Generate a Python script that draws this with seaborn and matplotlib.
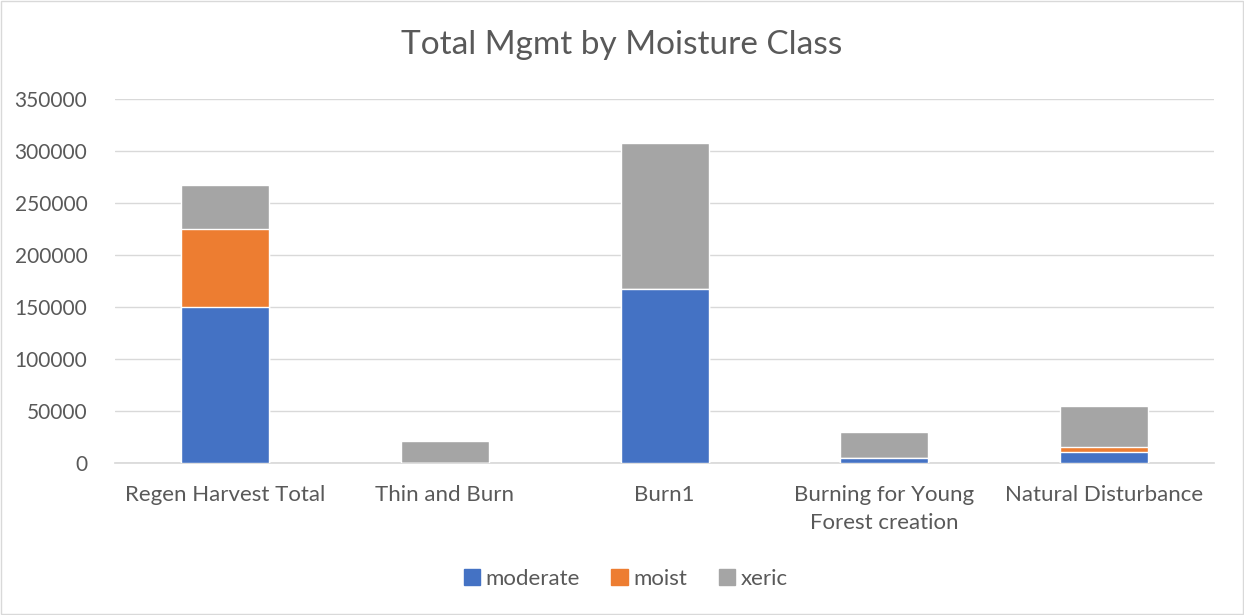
import pandas as pd
import matplotlib.pyplot as plt
import seaborn as sns
from matplotlib.patches import Patch

categories = ["Regen Harvest Total", "Thin and Burn", "Burn1",
              "Burning for Young\nForest creation", "Natural Disturbance"]
moderate = [150000, 0, 167000, 4500, 10300]
moist = [75000, 0, 0, 0, 5400]
xeric = [42000, 21000, 140500, 25000, 39500]

colors = {"moderate": "#4472C4", "moist": "#ED7D31", "xeric": "#A5A5A5"}
text_color = "#595959"

df = pd.DataFrame({
    "category": categories,
    "moderate": moderate,
    "moist": moist,
    "xeric": xeric,
})
# cumulative heights so each layer can be drawn over the one above it
df["c_moist"] = df["moderate"] + df["moist"]
df["c_xeric"] = df["c_moist"] + df["xeric"]

sns.set_theme(style="white")
plt.rcParams["font.family"] = ["Lato", "DejaVu Sans"]

fig, ax = plt.subplots(figsize=(12.44, 6.15), dpi=100)
fig.subplots_adjust(left=0.0925, right=0.976, top=0.839, bottom=0.247)

for col, name in [("c_xeric", "xeric"), ("c_moist", "moist"), ("moderate", "moderate")]:
    sns.barplot(data=df, x="category", y=col, color=colors[name],
                width=0.4, saturation=1, ax=ax, zorder=3)

ax.set_ylim(0, 350000)
ax.set_yticks(range(0, 350001, 50000))
ax.yaxis.grid(True, color="#D9D9D9", linewidth=1, zorder=0)
ax.set_xlabel("")
ax.set_ylabel("")
for side in ["top", "right", "left"]:
    ax.spines[side].set_visible(False)
ax.spines["bottom"].set_color("#D9D9D9")
ax.tick_params(axis="both", colors=text_color, length=0)
ax.tick_params(axis="x", labelsize=16, pad=16)
ax.tick_params(axis="y", labelsize=15, pad=20)
for lbl in ax.get_xticklabels():
    lbl.set_linespacing(1.5)

fig.text(0.5, 0.927, "Total Mgmt by Moisture Class", fontsize=24,
         color=text_color, ha="center", va="center")

handles = [Patch(color=colors[n], label=n) for n in ["moderate", "moist", "xeric"]]
fig.legend(handles=handles, loc="lower center", ncol=3, frameon=False,
           fontsize=16, labelcolor=text_color, handlelength=0.75, handleheight=0.75,
           handletextpad=0.25, columnspacing=1.4, bbox_to_anchor=(0.503, 0.01))

fig.patches.append(plt.Rectangle((0.001, 0.001), 0.998, 0.998, transform=fig.transFigure,
                                 fill=False, edgecolor="#D9D9D9", linewidth=1))

fig.savefig("out.png", dpi=100)
plt.close(fig)
